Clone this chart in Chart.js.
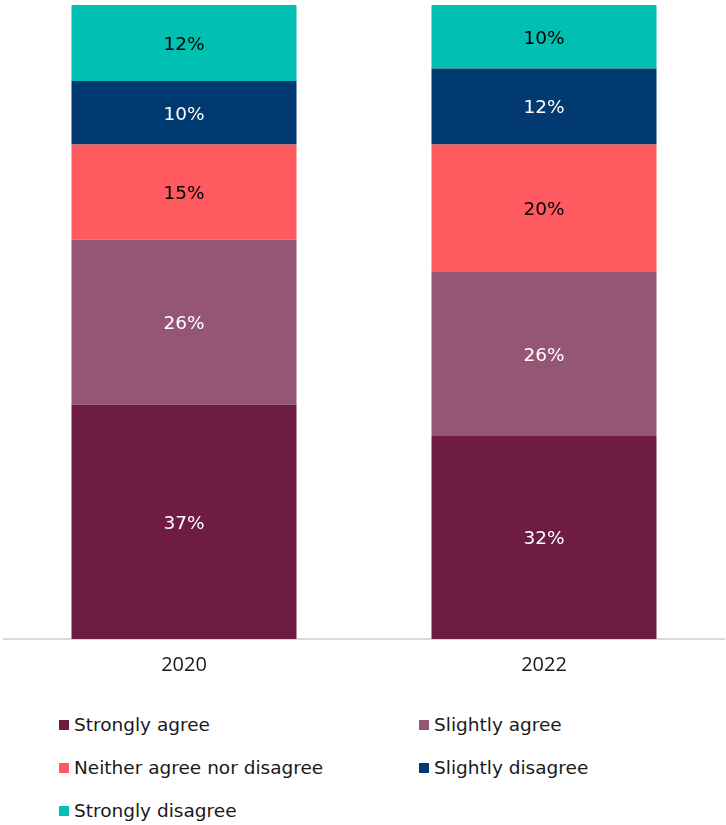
<!DOCTYPE html>
<html>
<head>
<meta charset="utf-8">
<script src="https://cdn.jsdelivr.net/npm/chart.js@4/dist/chart.umd.min.js"></script>
<style>
  html, body { margin: 0; padding: 0; background: #fff; }
  #wrap { position: relative; width: 726px; height: 825px; }
  #chartBox { position: absolute; left: 0; top: 0; width: 726px; height: 683px; }
  #legend { position: absolute; left: 0; top: 710px; width: 726px; height: 115px;
            font-family: "DejaVu Sans", Verdana, sans-serif; font-size: 18.5px; color: #1a1a1a; }
  .item { position: absolute; display: flex; align-items: center; white-space: nowrap; }
  .swatch { width: 10px; height: 10px; margin-right: 5px; }
</style>
</head>
<body>
<div id="wrap">
  <div id="chartBox"><canvas id="c"></canvas></div>
  <div id="legend"></div>
</div>
<script>
const years = ["2020", "2022"];
const seriesNames = ["Strongly agree", "Slightly agree", "Neither agree nor disagree", "Slightly disagree", "Strongly disagree"];
const stronglyAgree = [37, 32];
const slightlyAgree = [26, 26];
const neitherAgree = [15, 20];
const slightlyDisagree = [10, 12];
const stronglyDisagree = [12, 10];
const seriesColors = ["#6f1c45", "#955575", "#ff5a5f", "#003a70", "#00bfb3"];
const labelColors = ["#ffffff", "#ffffff", "#000000", "#ffffff", "#000000"];

const seriesValues = [stronglyAgree, slightlyAgree, neitherAgree, slightlyDisagree, stronglyDisagree];

// Percent labels centred in each stacked segment
const segmentLabels = {
  id: "segmentLabels",
  afterDatasetsDraw(chart) {
    const ctx = chart.ctx;
    ctx.save();
    ctx.font = '18.5px "DejaVu Sans", Verdana, sans-serif';
    ctx.textAlign = "center";
    ctx.textBaseline = "middle";
    chart.data.datasets.forEach((ds, i) => {
      const meta = chart.getDatasetMeta(i);
      meta.data.forEach((bar, j) => {
        const y = (bar.y + bar.base) / 2;
        ctx.fillStyle = labelColors[i];
        ctx.fillText(ds.data[j] + "%", bar.x, y + 2);
      });
    });
    ctx.restore();
  }
};

const chart = new Chart(document.getElementById("c"), {
  type: "bar",
  data: {
    labels: years,
    datasets: seriesValues.map((vals, i) => ({
      label: seriesNames[i],
      data: vals,
      backgroundColor: seriesColors[i],
      borderWidth: 0,
      categoryPercentage: 1,
      barPercentage: 0.625
    }))
  },
  options: {
    responsive: true,
    maintainAspectRatio: false,
    animation: false,
    layout: { padding: { top: 5, left: 4, right: 2, bottom: 0 } },
    plugins: { legend: { display: false }, tooltip: { enabled: false } },
    scales: {
      x: {
        stacked: true,
        grid: { display: false },
        border: { display: true, color: "#d9d9d9", width: 2 },
        ticks: {
          color: "#1a1a1a",
          padding: 6,
          font: { family: '"Liberation Sans Narrow", "Open Sans", sans-serif', size: 20 }
        }
      },
      y: {
        stacked: true,
        display: false,
        min: 0,
        max: 100
      }
    }
  },
  plugins: [segmentLabels]
});

// Legend in two columns, built from the datasets
const legend = document.getElementById("legend");
const colX = [59, 419];
const rowY = [16, 59, 102];
chart.data.datasets.forEach((ds, i) => {
  const el = document.createElement("div");
  el.className = "item";
  el.style.left = colX[i % 2] + "px";
  el.style.top = (rowY[Math.floor(i / 2)] - 12) + "px";
  const sw = document.createElement("span");
  sw.className = "swatch";
  sw.style.background = ds.backgroundColor;
  const tx = document.createElement("span");
  tx.textContent = ds.label;
  el.appendChild(sw);
  el.appendChild(tx);
  legend.appendChild(el);
});
</script>
</body>
</html>
